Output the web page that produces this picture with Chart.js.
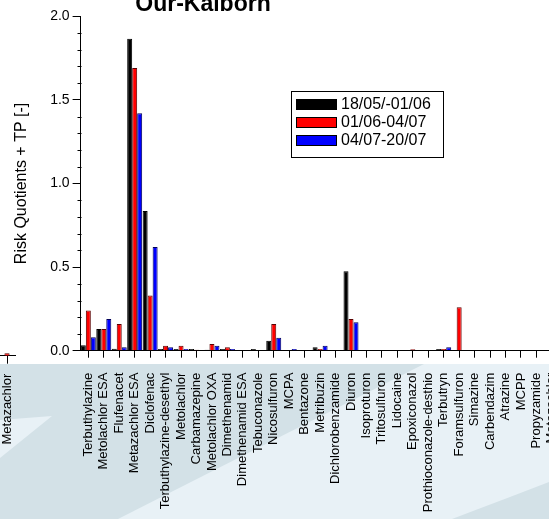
<!DOCTYPE html>
<html>
<head>
<meta charset="utf-8">
<script src="https://cdn.jsdelivr.net/npm/chart.js@4.4.1/dist/chart.umd.min.js"></script>
<style>
  html, body { margin: 0; padding: 0; width: 549px; height: 519px; overflow: hidden; background: #fff; }
  #stage { position: relative; width: 549px; height: 519px; overflow: hidden; }
  .bg { position: absolute; left: 0; top: 0; width: 549px; height: 519px; }
  #band { background: #d3e1e7; clip-path: polygon(0 364px, 549px 364px, 549px 519px, 0 519px); }
  #lightRight { background: #e8f1f6; clip-path: polygon(424px 364px, 549px 364px, 549px 482px, 452px 519px, 118px 519px); }
  #lightWedge { background: #e8f1f6; clip-path: polygon(0 420px, 52px 416px, 0 458px); }
  #main { position: absolute; left: 0; top: 0; }
  #mini { position: absolute; left: -21px; top: 5px; }
</style>
</head>
<body>
<div id="stage">
  <div class="bg" id="band"></div>
  <div class="bg" id="lightRight"></div>
  <div class="bg" id="lightWedge"></div>
  <canvas id="main" width="600" height="519"></canvas>
  <canvas id="mini" width="56" height="519"></canvas>
</div>
<script>
// Our-Kalborn - risk quotients per substance, three sampling periods

const categories = [
    'Terbuthylazine', 'Metolachlor ESA', 'Flufenacet', 'Metazachlor ESA', 'Diclofenac',
    'Terbuthylazine-desethyl', 'Metolachlor', 'Carbamazepine', 'Metolachlor OXA', 'Dimethenamid',
    'Dimethenamid ESA', 'Tebuconazole', 'Nicosulfuron', 'MCPA', 'Bentazone',
    'Metribuzin', 'Dichlorobenzamide', 'Diuron', 'Isoproturon', 'Tritosulfuron',
    'Lidocaine', 'Epoxiconazol', 'Prothioconazole-desthio', 'Terbutryn', 'Foramsulfuron',
    'Simazine', 'Carbendazim', 'Atrazine', 'MCPP', 'Propyzamide', 'Metazachlor'
];
const periodLabels = ['18/05/-01/06', '01/06-04/07', '04/07-20/07'];

const period1 = [0.032, 0.13, 0.012, 1.865, 0.835, 0.01, 0.01, 0.01, 0.005, 0.01,
                 0, 0.01, 0.06, 0, 0, 0.02, 0, 0.475, 0, 0,
                 0, 0, 0, 0.01, 0, 0, 0, 0, 0, 0, 0];
const period2 = [0.24, 0.13, 0.16, 1.69, 0.33, 0.03, 0.03, 0.005, 0.04, 0.02,
                 0, 0, 0.16, 0.003, 0, 0.01, 0, 0.19, 0, 0,
                 0, 0.008, 0, 0.01, 0.26, 0, 0, 0, 0, 0, 0.015];
const period3 = [0.08, 0.19, 0.02, 1.42, 0.62, 0.02, 0.01, 0, 0.03, 0.01,
                 0, 0, 0.078, 0.01, 0, 0.03, 0, 0.17, 0, 0,
                 0, 0, 0, 0.02, 0, 0, 0, 0, 0, 0, 0];
const yMajorTicks = [0, 0.5, 1.0, 1.5, 2.0];

Chart.defaults.font.family = "'Liberation Sans', Arial, sans-serif";
Chart.defaults.color = '#000';

const fills = ['#000000', '#ff0000', '#0000ff'];
const edges = ['#000000', '#5a0000', '#00005a'];

function makeDatasets(series) {
    return series.map((d, i) => ({
        label: periodLabels[i],
        data: d,
        backgroundColor: fills[i],
        borderColor: edges[i],
        borderWidth: 1,
        categoryPercentage: 0.97,
        barPercentage: 1
    }));
}

// minor ticks every 0.1 on the y axis
const minorTicks = {
    id: 'minorTicks',
    afterDraw(chart) {
        const y = chart.scales.y;
        const ctx = chart.ctx;
        const x0 = Math.round(chart.chartArea.left) + 0.5;
        ctx.save();
        ctx.strokeStyle = '#000';
        ctx.lineWidth = 1;
        for (let i = 0; i <= 20; i++) {
            if (i % 5 === 0) continue;
            const py = Math.round(y.getPixelForValue(i / 10)) + 0.5;
            ctx.beginPath();
            ctx.moveTo(x0 - 4, py);
            ctx.lineTo(x0, py);
            ctx.stroke();
        }
        ctx.restore();
    }
};

const legendBox = {
    id: 'legendBox',
    afterDraw(chart) {
        const ctx = chart.ctx;
        ctx.save();
        ctx.fillStyle = '#fff';
        ctx.fillRect(292, 92, 151, 65);
        ctx.strokeStyle = '#000';
        ctx.lineWidth = 1;
        ctx.strokeRect(291.5, 91.5, 152, 66);
        ctx.font = "16px 'Liberation Sans', Arial, sans-serif";
        ctx.textBaseline = 'middle';
        chart.data.datasets.forEach((ds, i) => {
            const yy = 99 + i * 18;
            ctx.fillStyle = ds.backgroundColor;
            ctx.fillRect(296, yy, 41, 11);
            ctx.strokeStyle = '#000';
            ctx.strokeRect(296.5, yy + 0.5, 40, 10);
            ctx.fillStyle = '#000';
            ctx.fillText(ds.label, 341, yy + 6);
        });
        ctx.restore();
    }
};

const chartTitle = {
    id: 'chartTitle',
    afterDraw(chart) {
        const ctx = chart.ctx;
        ctx.save();
        ctx.font = "bold 23px 'Liberation Sans', Arial, sans-serif";
        ctx.fillStyle = '#000';
        ctx.textAlign = 'center';
        ctx.textBaseline = 'alphabetic';
        ctx.fillText('Our-Kalborn', 203, 11);
        ctx.restore();
    }
};

new Chart(document.getElementById('main'), {
    type: 'bar',
    data: {
        labels: categories,
        datasets: makeDatasets([period1, period2, period3])
    },
    options: {
        responsive: false,
        animation: false,
        layout: { padding: { left: 8, top: 16.2, right: 40.4, bottom: 0 } },
        plugins: { legend: { display: false }, tooltip: { enabled: false } },
        scales: {
            x: {
                grid: { offset: false, drawOnChartArea: false, tickLength: 7, color: '#000' },
                border: { color: '#000', width: 1 },
                ticks: {
                    autoSkip: false, maxRotation: 90, minRotation: 90, padding: 15,
                    font: { size: 13 }
                },
                afterFit(s) { s.height = 168.3; }
            },
            y: {
                min: 0,
                max: 2,
                afterBuildTicks(s) { s.ticks = yMajorTicks.map(v => ({ value: v })); },
                ticks: {
                    padding: 3,
                    font: { size: 14 },
                    callback: v => Number(v).toFixed(1)
                },
                grid: { drawOnChartArea: false, tickLength: 8, color: '#000' },
                border: { color: '#000', width: 1 },
                title: {
                    display: true,
                    text: 'Risk Quotients + TP [-]',
                    font: { size: 16 },
                    padding: { top: 4, bottom: 4 }
                },
                afterFit(s) { s.width = 72.6; }
            }
        }
    },
    plugins: [minorTicks, legendBox, chartTitle]
});

// the last category shows again at the far left edge
new Chart(document.getElementById('mini'), {
    type: 'bar',
    data: {
        labels: categories.slice(-1),
        datasets: makeDatasets([period1.slice(-1), period2.slice(-1), period3.slice(-1)])
    },
    options: {
        responsive: false,
        animation: false,
        layout: { padding: { left: 20, top: 16.2, right: 20, bottom: 0 } },
        plugins: { legend: { display: false }, tooltip: { enabled: false } },
        scales: {
            x: {
                grid: { offset: false, drawOnChartArea: false, tickLength: 8, color: '#000' },
                border: { color: '#000', width: 1 },
                ticks: { autoSkip: false, maxRotation: 90, minRotation: 90, padding: 10, font: { size: 13 } },
                afterFit(s) {
                    s.height = 168.3;
                    s.paddingLeft = 0;
                    s.paddingRight = 0;
                }
            },
            y: { display: false, min: 0, max: 2 }
        }
    }
});
</script>
</body>
</html>
